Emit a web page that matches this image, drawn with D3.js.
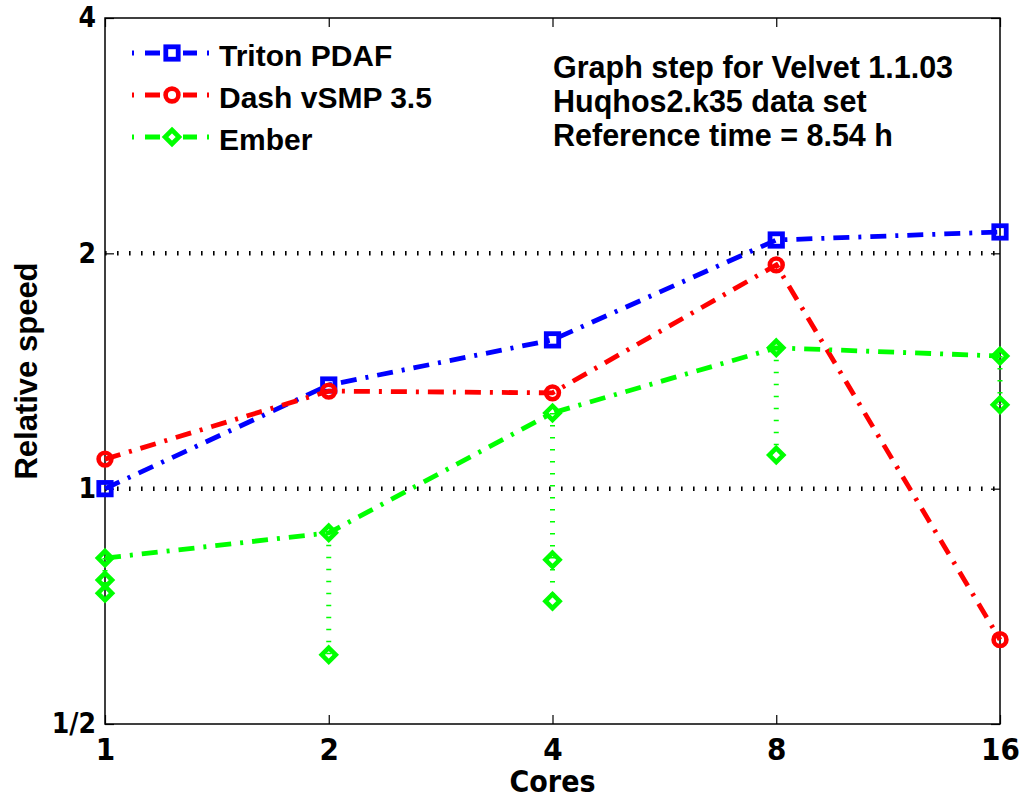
<!DOCTYPE html>
<html>
<head>
<meta charset="utf-8">
<script src="https://cdn.jsdelivr.net/npm/d3@7"></script>
<style>
  body { margin: 0; background: #fff; }
  svg text { font-family: "Liberation Sans", Arial, sans-serif; font-weight: bold; }
  .tick text, .axlabel { font-family: "Liberation Sans Narrow", "Arial Narrow", "DejaVu Sans Condensed", sans-serif; }
</style>
</head>
<body>
<div id="chart"></div>
<script>
// data
const cores = [1, 2, 4, 8, 16];
const tritonPDAF = [1.0, 1.357, 1.55, 2.08, 2.13];
const dashVSMP = [1.091, 1.333, 1.326, 1.933, 0.641];
const ember = [0.815, 0.878, 1.25, 1.514, 1.478];
// extra Ember runs, drawn with dotted drops
const emberRunsCores = [1, 1, 2, 4, 4, 8, 16];
const emberRunsSpeed = [0.764, 0.735, 0.613, 0.811, 0.718, 1.104, 1.28];
const yTicks = [0.5, 1, 2, 4];
const yTickLabels = ["1/2", "1", "2", "4"];
const notes = ["Graph step for Velvet 1.1.03", "Huqhos2.k35 data set", "Reference time = 8.54 h"];

const W = 1020, H = 801;
const mLeft = 105, mRight = 1000, mTop = 18, mBottom = 724;

const svg = d3.select("#chart").append("svg")
    .attr("width", W)
    .attr("height", H);

const x = d3.scaleLog().base(2).domain([1, 16]).range([mLeft, mRight]);
const y = d3.scaleLog().base(2).domain([0.5, 4]).range([mBottom, mTop]);

const dashDot = "16,9,3,9";

// dotted grid at the inner major ticks
svg.append("g").selectAll("line")
    .data([1, 2])
    .join("line")
    .attr("x1", mLeft).attr("x2", mRight)
    .attr("y1", d => y(d)).attr("y2", d => y(d))
    .attr("stroke", "#000")
    .attr("stroke-width", 4.5)
    .attr("stroke-dasharray", "1.6,10.4");

// axes, ticks inward like matlab
const fmtY = d => yTickLabels[yTicks.indexOf(d)];
svg.append("g").attr("class", "xax").attr("transform", `translate(0,${mBottom})`)
    .call(d3.axisBottom(x).tickValues(cores).tickFormat(d3.format("d")).tickSize(-9).tickPadding(14))
    .call(g => g.select(".domain").remove());
svg.append("g").attr("transform", `translate(0,${mTop})`)
    .call(d3.axisTop(x).tickValues(cores).tickFormat("").tickSize(-9))
    .call(g => g.select(".domain").remove());
svg.append("g").attr("transform", `translate(${mLeft},0)`)
    .call(d3.axisLeft(y).tickValues(yTicks).tickFormat(fmtY).tickSize(-9).tickPadding(9))
    .call(g => g.select(".domain").remove());
svg.append("g").attr("transform", `translate(${mRight},0)`)
    .call(d3.axisRight(y).tickValues(yTicks).tickFormat("").tickSize(-9))
    .call(g => g.select(".domain").remove());

svg.selectAll(".tick line").attr("stroke", "#000").attr("stroke-width", 1.2);
svg.selectAll(".tick text").attr("fill", "#000").style("font-size", "28px");
svg.selectAll(".xax .tick text").style("font-size", "31px");

svg.append("rect")
    .attr("x", mLeft).attr("y", mTop)
    .attr("width", mRight - mLeft).attr("height", mBottom - mTop)
    .attr("fill", "none").attr("stroke", "#000").attr("stroke-width", 1.5);

// axis titles
svg.append("text").attr("class", "axlabel")
    .attr("x", (mLeft + mRight) / 2).attr("y", 792)
    .attr("text-anchor", "middle")
    .attr("textLength", 86)
    .attr("lengthAdjust", "spacingAndGlyphs")
    .style("font-size", "30px")
    .text("Cores");
svg.append("text")
    .attr("transform", `translate(37,${(mTop + mBottom) / 2}) rotate(-90)`)
    .attr("text-anchor", "middle")
    .style("font-size", "31px")
    .text("Relative speed");

const line = d3.line()
    .x(d => x(d[0]))
    .y(d => y(d[1]));

// Ember drops: dotted line from main point down to lowest run
const drops = cores.map((c, i) => {
    const runs = emberRunsSpeed.filter((v, j) => emberRunsCores[j] === c);
    return runs.length ? [c, ember[i], d3.min(runs)] : null;
}).filter(d => d);
svg.append("g").selectAll("line")
    .data(drops)
    .join("line")
    .attr("x1", d => x(d[0])).attr("x2", d => x(d[0]))
    .attr("y1", d => y(d[1])).attr("y2", d => y(d[2]))
    .attr("stroke", "#00ff00")
    .attr("stroke-width", 5)
    .attr("stroke-dasharray", "1.5,10.5");

const series = [
    { name: "Triton PDAF", color: "#0000ff", values: tritonPDAF, marker: "square" },
    { name: "Dash vSMP 3.5", color: "#ff0000", values: dashVSMP, marker: "circle" },
    { name: "Ember", color: "#00ff00", values: ember, marker: "diamond" }
];

function drawMarker(g, type, color, cx, cy) {
    if (type === "square") {
        g.append("rect").attr("x", cx - 6.2).attr("y", cy - 6.2)
            .attr("width", 12.4).attr("height", 12.4)
            .attr("fill", "none").attr("stroke", color).attr("stroke-width", 4.8);
    } else if (type === "circle") {
        g.append("circle").attr("cx", cx).attr("cy", cy).attr("r", 6.4)
            .attr("fill", "none").attr("stroke", color).attr("stroke-width", 4.6);
    } else {
        g.append("path")
            .attr("d", `M${cx},${cy - 7}L${cx + 7},${cy}L${cx},${cy + 7}L${cx - 7},${cy}Z`)
            .attr("fill", "none").attr("stroke", color).attr("stroke-width", 4.6);
    }
}

series.forEach(s => {
    const pts = cores.map((c, i) => [c, s.values[i]]);
    svg.append("path")
        .attr("d", line(pts))
        .attr("fill", "none")
        .attr("stroke", s.color)
        .attr("stroke-width", 4.8)
        .attr("stroke-dasharray", dashDot);
    const g = svg.append("g");
    pts.forEach(p => drawMarker(g, s.marker, s.color, x(p[0]), y(p[1])));
    if (s.marker === "diamond") {
        emberRunsCores.forEach((c, j) => drawMarker(g, "diamond", s.color, x(c), y(emberRunsSpeed[j])));
    }
});

// legend
const legend = svg.append("g");
series.forEach((s, i) => {
    const ly = 53 + i * 42;
    legend.append("line")
        .attr("x1", 132).attr("x2", 209)
        .attr("y1", ly).attr("y2", ly)
        .attr("stroke", s.color).attr("stroke-width", 4.8)
        .attr("stroke-dasharray", "2,11,15,23,14,10,2,50");
    drawMarker(legend, s.marker, s.color, 172, ly);
    legend.append("text")
        .attr("x", 219).attr("y", ly + 13)
        .style("font-size", "30px")
        .text(s.name);
});

// annotation
svg.append("g").selectAll("text")
    .data(notes)
    .join("text")
    .attr("x", 553)
    .attr("y", (d, i) => 78 + i * 34)
    .style("font-size", "30.5px")
    .text(d => d);
</script>
</body>
</html>
